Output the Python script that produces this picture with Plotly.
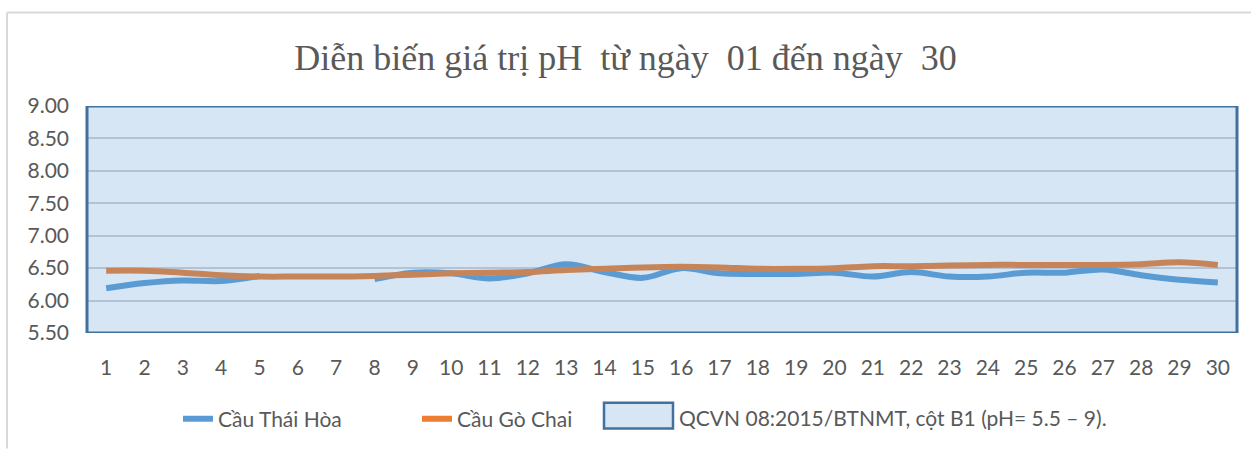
import plotly.graph_objects as go

# ---- data ----
days = list(range(1, 31))
thai_hoa = [6.19, 6.27, 6.31, 6.30, 6.38, None, None, 6.33, 6.43, 6.42,
            6.34, 6.42, 6.56, 6.44, 6.35, 6.50, 6.42, 6.41, 6.41, 6.43,
            6.37, 6.44, 6.37, 6.37, 6.43, 6.43, 6.48, 6.39, 6.32, 6.28]
go_chai = [6.46, 6.46, 6.43, 6.39, 6.37, 6.37, 6.37, 6.38, 6.40, 6.42,
           6.43, 6.44, 6.47, 6.49, 6.51, 6.52, 6.51, 6.49, 6.49, 6.50,
           6.53, 6.53, 6.54, 6.55, 6.55, 6.55, 6.55, 6.56, 6.59, 6.55]
qcvn_range = [5.5, 9.0]
y_ticks = [5.5, 6.0, 6.5, 7.0, 7.5, 8.0, 8.5, 9.0]
series_names = ["Cầu Thái Hòa", "Cầu Gò Chai",
                "QCVN 08:2015/BTNMT, cột B1 (pH= 5.5 – 9)."]
title_text = "Diễn biến giá trị pH  từ ngày  01 đến ngày  30"

# ---- layout helpers (pixel -> paper) ----
W, H = 1251, 450
L, R, T, B = 87, 1237, 106, 334


def px(x):
    return (x - L) / (R - L)


def py(y):
    return (B - y) / (B - T)


BLUE = "#5B9BD5"
ORANGE = "#ED7D31"
AREA_FILL = "rgba(91,155,213,0.25)"
AREA_LINE = "#41719C"
TXT = "#595959"
FONT = "Lato"
FS = 21

fig = go.Figure()
fig.add_trace(go.Scatter(
    x=days, y=thai_hoa, mode="lines", name=series_names[0],
    line=dict(color=BLUE, width=6, shape="spline", smoothing=1.0),
    connectgaps=False, legend="legend", showlegend=True))
fig.add_trace(go.Scatter(
    x=days, y=go_chai, mode="lines", name=series_names[1],
    line=dict(color=ORANGE, width=6, shape="spline", smoothing=1.0),
    connectgaps=False, legend="legend2", showlegend=True))

shapes = [
    # QCVN permitted range, drawn over the lines like the original
    dict(type="rect", xref="paper", yref="y", x0=0, x1=1,
         y0=qcvn_range[0], y1=qcvn_range[1], layer="above",
         fillcolor=AREA_FILL, line=dict(color=AREA_LINE, width=3)),
    # chart-area border (top and left)
    dict(type="line", xref="paper", yref="paper", x0=px(7), x1=px(1251),
         y0=py(12), y1=py(12), line=dict(color="#D9D9D9", width=2)),
    dict(type="line", xref="paper", yref="paper", x0=px(7), x1=px(7),
         y0=py(12), y1=py(450), line=dict(color="#D9D9D9", width=2)),
    # legend key for the QCVN range
    dict(type="rect", xref="paper", yref="paper", x0=px(604), x1=px(673),
         y0=py(430), y1=py(404), fillcolor=AREA_FILL,
         line=dict(color=AREA_LINE, width=2.5)),
]

annotations = [
    dict(xref="paper", yref="paper", x=px(677), y=py(419), xanchor="left",
         yanchor="middle", text=series_names[2], showarrow=False,
         font=dict(family=FONT, size=FS, color=TXT)),
]

leg_common = dict(orientation="h", yanchor="middle", xanchor="left",
                  font=dict(family=FONT, size=FS, color=TXT),
                  bgcolor="rgba(0,0,0,0)")

fig.update_layout(
    width=W, height=H, showlegend=True,
    margin=dict(l=L, r=W - R, t=T, b=H - B, pad=0),
    paper_bgcolor="white", plot_bgcolor="white",
    title=dict(text=title_text, x=0.5, xref="container", xanchor="center",
               y=1 - 57 / H, yref="container", yanchor="middle",
               font=dict(family="Liberation Serif", size=36, color=TXT)),
    xaxis=dict(range=[days[0] - 0.5, days[-1] + 0.5], tickmode="array",
               tickvals=days, ticktext=[str(d) for d in days],
               showgrid=False, zeroline=False, showline=False,
               ticks="", ticklabelstandoff=20,
               tickfont=dict(family=FONT, size=FS, color=TXT)),
    yaxis=dict(range=[qcvn_range[0], qcvn_range[1]], tickmode="array",
               tickvals=y_ticks, ticktext=[f"{v:.2f}" for v in y_ticks],
               showgrid=True, gridcolor="#D0D0D6", gridwidth=2,
               zeroline=False, showline=False, ticks="",
               ticklabelstandoff=17,
               tickfont=dict(family=FONT, size=FS, color=TXT)),
    legend=dict(x=px(178), y=py(419), **leg_common),
    legend2=dict(x=px(417), y=py(419), **leg_common),
    shapes=shapes,
    annotations=annotations,
)

fig.write_html(
    "out.html",
    config={"displayModeBar": False},
    post_script="document.body.style.margin='0';"
                "document.body.style.overflow='hidden';")
